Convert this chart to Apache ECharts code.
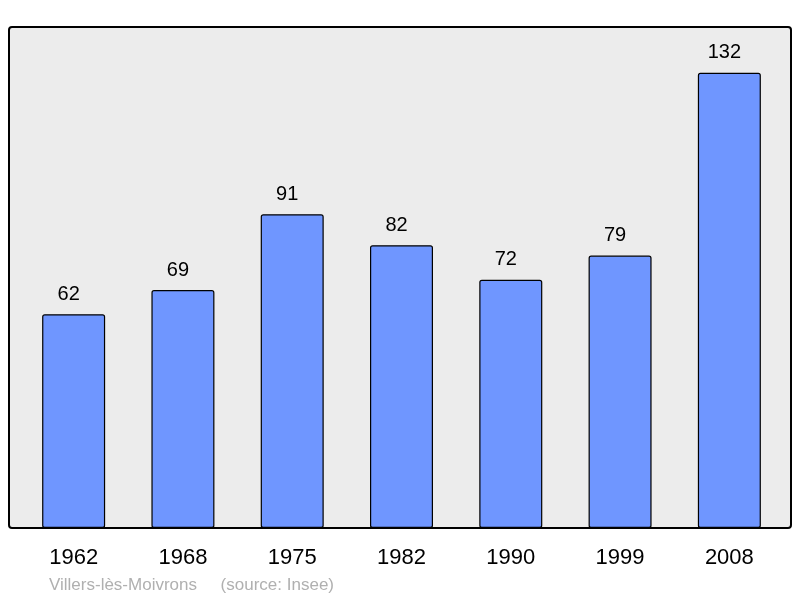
<!DOCTYPE html>
<html>
<head>
<meta charset="utf-8">
<script src="https://cdn.jsdelivr.net/npm/echarts@6/dist/echarts.min.js"></script>
<style>
  html, body { margin: 0; padding: 0; background: #fff; }
  #chart { width: 800px; height: 598px; }
</style>
</head>
<body>
<div id="chart"></div>
<script>
// 数据
const years = ['1962', '1968', '1975', '1982', '1990', '1999', '2008']
const population = [62, 69, 91, 82, 72, 79, 132]
const sourceText = 'Villers-lès-Moivrons     (source: Insee)'

const myChart = echarts.init(document.getElementById('chart'))

const option = {
  animation: false,
  textStyle: { fontFamily: 'Liberation Sans, Arial, sans-serif' },
  graphic: [
    {
      type: 'rect',
      z: -10,
      shape: { x: 9, y: 27, width: 782, height: 501, r: 3 },
      style: { fill: '#ececec', stroke: '#000', lineWidth: 2 },
    },
    {
      type: 'text',
      left: 49,
      top: 577,
      style: {
        text: sourceText,
        fill: '#b0b0b0',
        fontSize: 17,
        fontFamily: 'Liberation Sans, Arial, sans-serif',
      },
    },
  ],
  grid: {
    left: 19,
    right: 16,
    top: 27,
    bottom: 70,
  },
  xAxis: {
    type: 'category',
    data: years,
    axisLine: { show: false },
    axisTick: { show: false },
    axisLabel: {
      color: '#000',
      fontSize: 22,
      margin: 19,
    },
  },
  yAxis: {
    type: 'value',
    min: 0,
    max: 145.3,
    show: false,
    splitLine: { show: false },
  },
  series: [
    {
      type: 'bar',
      data: population,
      barWidth: 63,
      itemStyle: {
        color: '#6f96ff',
        borderColor: '#000',
        borderWidth: 1.2,
        borderRadius: 2,
      },
      label: {
        show: true,
        position: 'top',
        distance: 10,
        offset: [-5, 0],
        color: '#000',
        fontSize: 20,
      },
    },
  ],
}

myChart.setOption(option)
</script>
</body>
</html>
